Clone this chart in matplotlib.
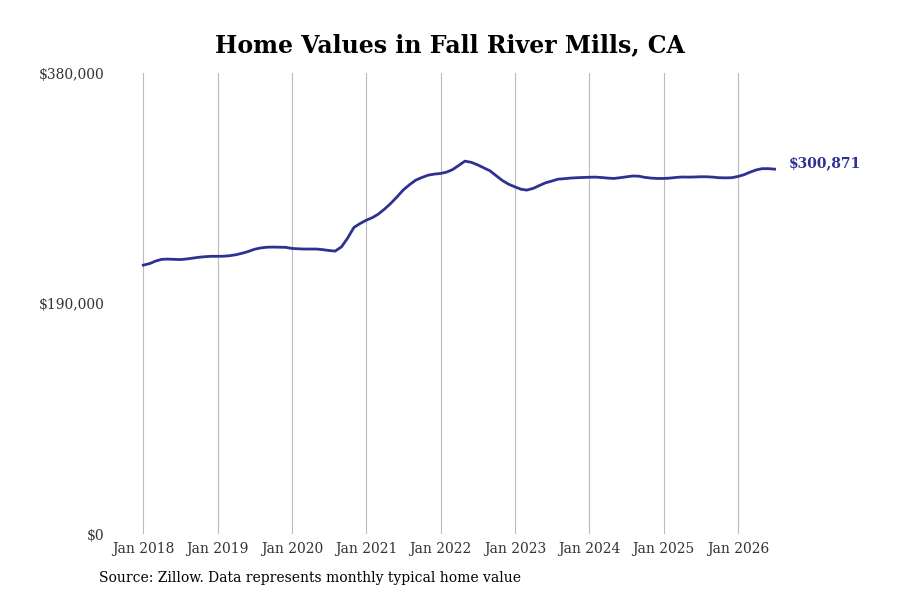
import matplotlib
matplotlib.use("Agg")
import matplotlib.pyplot as plt
import pandas as pd

values_k = [
221.7,223,225,226.5,226.7,226.5,226.3,226.8,227.5,228.2,228.7,229,
229,229.1,229.5,230.3,231.5,233,234.8,235.9,236.5,236.6,236.5,236.4,
235.5,235.2,235,235,235,234.5,233.8,233.3,236.8,244,252.8,256,
258.8,261,263.8,268,272.6,278,283.6,288,291.8,294,295.9,296.8,
297.3,298.5,300.5,304,307.5,306.5,304.5,302,299.5,295.5,291.5,288.5,
286.3,284.3,283.6,285,287.3,289.6,291,292.6,293,293.5,293.8,294,
294.2,294.3,294,293.5,293.2,293.8,294.5,295.2,295.1,294.1,293.5,293.2,
293.2,293.5,294,294.4,294.3,294.4,294.6,294.6,294.3,293.8,293.7,293.8,
294.8,296.3,298.3,300.2,301.3,301.3,300.871]
values = [v*1000 for v in values_k]
dates = pd.date_range("2018-01-01", periods=len(values), freq="MS")
tick_years = list(range(2018, 2027))
ytick_vals = [0, 190000, 380000]
ytick_labels = ["$0", "$190,000", "$380,000"]
color = "#2e3192"

plt.rcParams['font.family'] = ['DejaVu Serif']
fig = plt.figure(figsize=(9, 6), dpi=100)
ax = fig.add_axes([0.122, 0.11, 0.78, 0.768])
ax.plot(dates, values, color=color, lw=2)
ax.set_ylim(0, 380000)
ax.set_xlim(pd.Timestamp("2017-07-20"), pd.Timestamp("2026-12-31"))
ax.set_yticks(ytick_vals)
ax.set_yticklabels(ytick_labels, fontsize=10, color="#333333")
ax.tick_params(axis='y', length=0, pad=4)
ax.set_xticks([pd.Timestamp(f"{y}-01-01") for y in tick_years])
ax.set_xticklabels([f"Jan {y}" for y in tick_years], fontsize=10, color="#333333")
ax.tick_params(axis='x', length=0, pad=6)
ax.grid(axis='x', color="#bbbbbb", lw=0.8)
for s in ax.spines.values():
    s.set_visible(False)
ax.annotate("$300,871", (dates[-1], values[-1]), xytext=(10, 4), textcoords="offset points",
            color=color, fontsize=10, fontweight="bold", va="center")
fig.suptitle("Home Values in Fall River Mills, CA", fontsize=17, fontweight="bold", y=0.945)
fig.text(0.11, 0.03, "Source: Zillow. Data represents monthly typical home value", fontsize=10)
fig.savefig("out.png", dpi=100)
